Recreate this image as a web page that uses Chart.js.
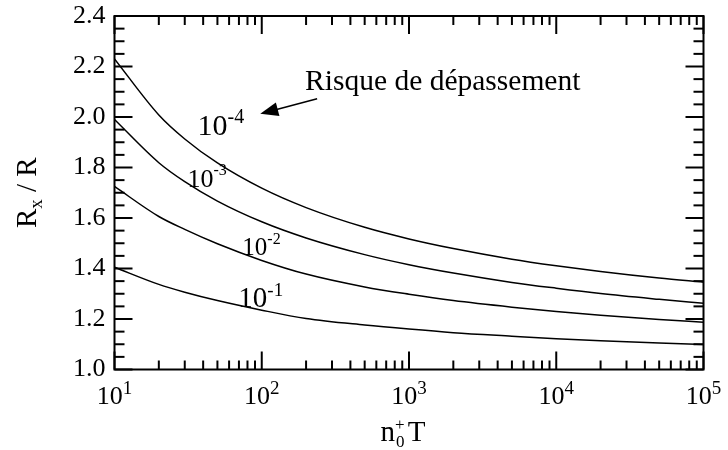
<!DOCTYPE html>
<html>
<head>
<meta charset="utf-8">
<script src="https://cdn.jsdelivr.net/npm/chart.js@4.4.0/dist/chart.umd.min.js"></script>
<style>
  body { margin: 0; background: #fff; }
  canvas { display: block; }
</style>
</head>
<body>
<canvas id="chart" width="728" height="450"></canvas>
<script>
const xValues = [10, 20, 30, 50, 100, 200, 500, 1000, 2000, 5000, 10000, 20000, 50000, 100000];
const risk1e4 = [2.230, 2.008, 1.913, 1.818, 1.718, 1.641, 1.563, 1.517, 1.479, 1.437, 1.411, 1.388, 1.362, 1.346];
const risk1e3 = [1.990, 1.819, 1.744, 1.667, 1.585, 1.521, 1.455, 1.415, 1.382, 1.345, 1.322, 1.301, 1.278, 1.262];
const risk1e2 = [1.725, 1.606, 1.555, 1.498, 1.432, 1.378, 1.327, 1.298, 1.273, 1.247, 1.230, 1.215, 1.198, 1.187];
const risk1e1 = [1.405, 1.337, 1.306, 1.273, 1.235, 1.202, 1.176, 1.160, 1.146, 1.132, 1.122, 1.114, 1.105, 1.099];
const xExponents = [1, 2, 3, 4, 5];

const SERIF = "'Liberation Serif', 'Times New Roman', serif";

// curve labels, placed in data coordinates
const curveLabels = [
  { exp: "-4", x: 36.6, y: 1.929, size: 30, expSize: 20, rise: 12 },
  { exp: "-3", x: 31.3, y: 1.724, size: 26, expSize: 16, rise: 12 },
  { exp: "-2", x: 73.8, y: 1.455, size: 25, expSize: 16, rise: 11 },
  { exp: "-1", x: 69.3, y: 1.249, size: 29, expSize: 19, rise: 11 },
];

function toPoints(values) {
  return xValues.map((x, i) => ({ x: x, y: values[i] }));
}

function line(ctx, x1, y1, x2, y2) {
  ctx.beginPath();
  ctx.moveTo(x1, y1);
  ctx.lineTo(x2, y2);
  ctx.stroke();
}

function drawPower(ctx, x, y, exp, size, expSize, rise) {
  ctx.font = size + "px " + SERIF;
  ctx.fillText("10", x, y);
  const w = ctx.measureText("10").width;
  ctx.font = expSize + "px " + SERIF;
  ctx.fillText(exp, x + w, y - rise);
}

const decorations = {
  id: "decorations",
  afterDraw(chart) {
    const ctx = chart.ctx;
    const xs = chart.scales.x;
    const ys = chart.scales.y;
    const { left, right, top, bottom } = chart.chartArea;
    ctx.save();
    ctx.strokeStyle = "#000";
    ctx.fillStyle = "#000";

    ctx.lineWidth = 2;
    ctx.strokeRect(left, top, right - left, bottom - top);

    // inward ticks on all four sides
    ctx.lineWidth = 2;
    for (let d = 1; d <= 5; d++) {
      for (let k = 1; k <= 9; k++) {
        const v = k * Math.pow(10, d);
        if (v > 100000) break;
        const px = xs.getPixelForValue(v);
        const len = k === 1 ? 18 : 9;
        line(ctx, px, bottom, px, bottom - len);
        line(ctx, px, top, px, top + len);
      }
    }
    for (let i = 0; i <= 28; i++) {
      const py = ys.getPixelForValue(1 + i * 0.05);
      const len = i % 4 === 0 ? 18 : 10;
      line(ctx, left, py, left + len, py);
      line(ctx, right, py, right - len, py);
    }

    // x tick labels 10^n
    ctx.textBaseline = "alphabetic";
    ctx.textAlign = "left";
    xExponents.forEach((e) => {
      const px = xs.getPixelForValue(Math.pow(10, e));
      ctx.font = "26px " + SERIF;
      const w1 = ctx.measureText("10").width;
      ctx.font = "19px " + SERIF;
      const w2 = ctx.measureText(String(e)).width;
      drawPower(ctx, px - (w1 + w2) / 2, bottom + 34, String(e), 26, 19, 10);
    });

    // x title: n0+ T
    ctx.font = "29px " + SERIF;
    const nW = ctx.measureText("n").width;
    const tW = ctx.measureText(" T").width;
    ctx.font = "17px " + SERIF;
    const sW = ctx.measureText("+").width;
    const xStart = (left + right) / 2 - 4 - (nW + sW + tW) / 2;
    const base = bottom + 71.5;
    ctx.font = "29px " + SERIF;
    ctx.fillText("n", xStart, base);
    ctx.font = "17px " + SERIF;
    ctx.fillText("+", xStart + nW, base - 11);
    ctx.fillText("0", xStart + nW + 1, base + 6);
    ctx.font = "29px " + SERIF;
    ctx.fillText(" T", xStart + nW + sW - 4, base);

    // y title: Rx / R
    ctx.save();
    ctx.translate(36, (top + bottom) / 2);
    ctx.rotate(-Math.PI / 2);
    ctx.font = "29px " + SERIF;
    const rW = ctx.measureText("R").width;
    const slW = ctx.measureText(" / R").width;
    ctx.font = "19px " + SERIF;
    const xW = ctx.measureText("x").width;
    const ys0 = -(rW + xW + slW) / 2;
    ctx.font = "29px " + SERIF;
    ctx.fillText("R", ys0, 0);
    ctx.font = "19px " + SERIF;
    ctx.fillText("x", ys0 + rW, 6);
    ctx.font = "29px " + SERIF;
    ctx.fillText(" / R", ys0 + rW + xW, 0);
    ctx.restore();

    // curve labels
    curveLabels.forEach((lb) => {
      drawPower(ctx, xs.getPixelForValue(lb.x), ys.getPixelForValue(lb.y),
        lb.exp, lb.size, lb.expSize, lb.rise);
    });

    // annotation with arrow
    ctx.font = "29.5px " + SERIF;
    ctx.fillText("Risque de dépassement", xs.getPixelForValue(197), ys.getPixelForValue(2.107));
    const tx = xs.getPixelForValue(237.7), ty = ys.getPixelForValue(2.072);
    const hx = xs.getPixelForValue(97.7), hy = ys.getPixelForValue(2.0125);
    const ang = Math.atan2(hy - ty, hx - tx);
    ctx.lineWidth = 1.5;
    line(ctx, tx, ty, hx - 14 * Math.cos(ang), hy - 14 * Math.sin(ang));
    ctx.beginPath();
    ctx.moveTo(hx, hy);
    ctx.lineTo(hx - 18 * Math.cos(ang) + 7 * Math.sin(ang), hy - 18 * Math.sin(ang) - 7 * Math.cos(ang));
    ctx.lineTo(hx - 18 * Math.cos(ang) - 7 * Math.sin(ang), hy - 18 * Math.sin(ang) + 7 * Math.cos(ang));
    ctx.closePath();
    ctx.fill();

    ctx.restore();
  },
};

const curveStyle = {
  borderColor: "#000",
  borderWidth: 1.5,
  pointRadius: 0,
  fill: false,
  cubicInterpolationMode: "monotone",
};

new Chart(document.getElementById("chart"), {
  type: "line",
  data: {
    datasets: [
      { label: "1e-4", data: toPoints(risk1e4), ...curveStyle },
      { label: "1e-3", data: toPoints(risk1e3), ...curveStyle },
      { label: "1e-2", data: toPoints(risk1e2), ...curveStyle },
      { label: "1e-1", data: toPoints(risk1e1), ...curveStyle },
    ],
  },
  options: {
    responsive: false,
    animation: false,
    devicePixelRatio: 1,
    layout: { padding: { top: 16, right: 24.5, left: 0, bottom: 0 } },
    plugins: { legend: { display: false }, tooltip: { enabled: false } },
    scales: {
      x: {
        type: "logarithmic",
        min: 10,
        max: 100000,
        grid: { display: false, drawTicks: false },
        border: { display: false },
        ticks: { display: false },
        afterFit: (scale) => {
          scale.height = 80.5;
          scale.paddingLeft = 0;
          scale.paddingRight = 0;
        },
      },
      y: {
        min: 1.0,
        max: 2.4,
        grid: { display: false, drawTicks: false },
        border: { display: false },
        ticks: {
          stepSize: 0.2,
          padding: 9,
          color: "#000",
          font: { family: SERIF, size: 26 },
          callback: (v) => v.toFixed(1),
        },
        afterFit: (scale) => {
          scale.width = 114.5;
          scale.paddingTop = 0;
          scale.paddingBottom = 0;
        },
      },
    },
  },
  plugins: [decorations],
});
</script>
</body>
</html>
